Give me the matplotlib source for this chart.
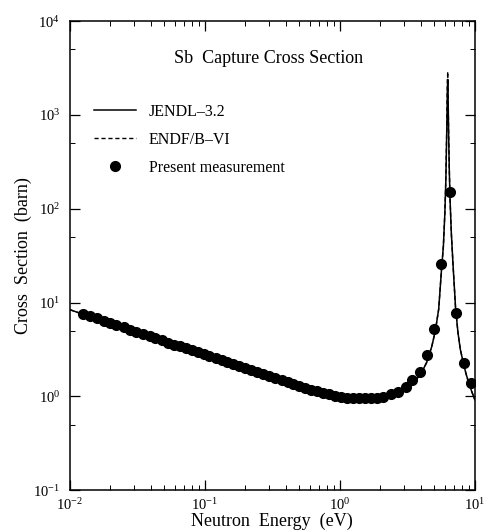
import numpy as np
import matplotlib
matplotlib.use("Agg")
import matplotlib.pyplot as plt
from matplotlib.ticker import LogLocator, NullFormatter

plt.rcParams['font.family'] = ['Liberation Serif', 'DejaVu Serif']
plt.rcParams['mathtext.fontset'] = 'stix'

# JENDL-3.2 evaluated curve
jendl_e = [0.01, 0.015, 0.02, 0.03, 0.05, 0.07, 0.1, 0.15, 0.2, 0.3, 0.5, 0.7,
           1.0, 1.3, 1.7, 2.0, 2.4, 2.8, 3.2, 3.6, 4.0, 4.4, 4.8, 5.1, 5.4,
           5.66, 5.85, 6.0, 6.1, 6.2, 6.26, 6.3, 6.34, 6.4, 6.47, 6.55, 6.7,
           6.9, 7.2, 7.5, 7.8, 8.2, 8.6, 9.0, 9.5, 10.0]
jendl_s = [8.4, 6.85, 5.95, 4.85, 3.78, 3.2, 2.7, 2.22, 1.93, 1.6, 1.27, 1.1,
           0.99, 0.95, 0.94, 0.96, 1.02, 1.11, 1.25, 1.45, 1.75, 2.3, 3.4, 5.0, 8.5,
           22, 40, 90, 200, 700, 1800, 2400, 1500, 600, 260, 130, 55,
           25, 8.8, 4.8, 3.2, 2.3, 1.75, 1.4, 1.12, 0.92]

# ENDF/B-VI evaluated curve
endf_e = [0.01, 0.015, 0.02, 0.03, 0.05, 0.07, 0.1, 0.15, 0.2, 0.3, 0.5, 0.7,
          1.0, 1.3, 1.7, 2.0, 2.4, 2.8, 3.2, 3.6, 4.0, 4.4, 4.8, 5.1, 5.4,
          5.66, 5.85, 6.0, 6.1, 6.2, 6.26, 6.3, 6.34, 6.4, 6.47, 6.55, 6.7,
          6.9, 7.2, 7.5, 7.8, 8.2, 8.6, 9.0, 9.5, 10.0]
endf_s = [8.4, 6.85, 5.95, 4.85, 3.78, 3.2, 2.7, 2.22, 1.93, 1.6, 1.27, 1.1,
          0.99, 0.95, 0.94, 0.96, 1.02, 1.11, 1.25, 1.45, 1.75, 2.3, 3.4, 5.0, 8.5,
          22, 40, 92, 210, 800, 2300, 2900, 1700, 650, 270, 130, 55,
          25, 8.8, 4.8, 3.2, 2.3, 1.75, 1.4, 1.12, 0.92]

# present measurement
meas_e = [0.0125, 0.014, 0.016, 0.018, 0.020, 0.022, 0.025, 0.028, 0.031, 0.035,
          0.039, 0.043, 0.048, 0.053, 0.059, 0.065, 0.072, 0.080, 0.089, 0.098,
          0.108, 0.12, 0.133, 0.147, 0.163, 0.18, 0.20, 0.22, 0.245, 0.27,
          0.30, 0.33, 0.37, 0.41, 0.45, 0.50, 0.55, 0.61, 0.68, 0.75,
          0.83, 0.92, 1.02, 1.13, 1.25, 1.38, 1.53, 1.70, 1.88, 2.08,
          2.41, 2.70, 3.07, 3.40, 3.91, 4.45, 5.0, 5.66, 6.53, 7.22, 8.3, 9.33]
meas_s = [7.6, 7.2, 6.8, 6.4, 6.1, 5.8, 5.45, 5.15, 4.9, 4.6,
          4.35, 4.15, 3.95, 3.75, 3.55, 3.4, 3.25, 3.1, 2.95, 2.8,
          2.68, 2.55, 2.43, 2.32, 2.2, 2.1, 2.0, 1.9, 1.81, 1.72,
          1.64, 1.57, 1.49, 1.42, 1.36, 1.29, 1.24, 1.18, 1.13, 1.09,
          1.05, 1.02, 0.99, 0.97, 0.96, 0.95, 0.95, 0.95, 0.96, 0.98,
          1.05, 1.12, 1.27, 1.49, 1.82, 2.75, 5.2, 26, 150, 7.8, 2.28, 1.39]

fig = plt.figure(figsize=(4.85, 5.31), dpi=100)
ax = fig.add_axes([0.144, 0.077, 0.835, 0.883])

ax.plot(jendl_e, jendl_s, color='black', lw=1.1, label='JENDL\u20133.2')
ax.plot(endf_e, endf_s, color='black', lw=1.0, ls=(0, (3, 2)), label='ENDF/B\u2013VI')
ax.plot(meas_e, meas_s, 'o', color='black', ms=7, label='Present measurement')

ax.set_xscale('log')
ax.set_yscale('log')
ax.set_xlim(1e-2, 1e1)
ax.set_ylim(1e-1, 1e4)
ax.yaxis.set_minor_locator(LogLocator(base=10, subs=[5.0]))
ax.yaxis.set_minor_formatter(NullFormatter())

ax.tick_params(which='both', direction='in', top=True, right=True, labelsize=10.5)
ax.tick_params(which='major', length=7.5, width=0.9)
ax.tick_params(which='minor', length=3.5, width=0.7)
ax.tick_params(axis='y', which='major', pad=7)
ax.tick_params(axis='x', which='major', pad=5)
for s in ax.spines.values():
    s.set_linewidth(1.1)

ax.set_xlabel('Neutron  Energy  (eV)', fontsize=13, labelpad=0)
ax.set_ylabel('Cross  Section  (barn)', fontsize=13, labelpad=1)

ax.text(0.49, 0.92, 'Sb  Capture Cross Section', transform=ax.transAxes,
        ha='center', va='center', fontsize=13)

ax.legend(loc='upper left', bbox_to_anchor=(0.025, 0.855), frameon=False,
          fontsize=11.5, handlelength=2.6, handletextpad=0.8, labelspacing=0.75)

fig.savefig('out.png', dpi=100)
